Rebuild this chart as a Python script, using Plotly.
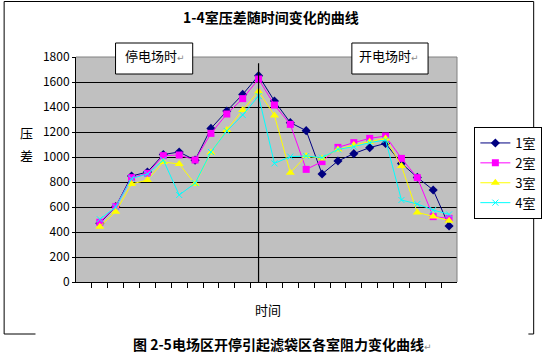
import plotly.graph_objects as go

# ---- data ----
time_index = list(range(1, 24))
room1 = [470, 603, 848, 880, 1020, 1040, 975, 1229, 1368, 1501, 1651, 1448, 1275, 1211, 864, 968, 1027, 1075, 1109, 949, 837, 736, 448]
room2 = [478, 603, 835, 869, 1011, 1016, 976, 1189, 1344, 1467, 1624, 1416, 1261, 901, 963, 1077, 1115, 1149, 1168, 989, 835, 523, 509]
room3 = [443, 563, 784, 816, 960, 944, 785, 1037, 1216, 1376, 1525, 1333, 875, 1008, 989, 1061, 1096, 1123, 1149, 928, 557, 525, 491]
room4 = [502, 600, 828, 864, 976, 696, 790, 1040, 1208, 1336, 1488, 949, 1003, 1008, 995, 1061, 1083, 1115, 1136, 656, 624, 576, 541]
series_names = ["1室", "2室", "3室", "4室"]
y_ticks = [0, 200, 400, 600, 800, 1000, 1200, 1400, 1600, 1800]
switch_index = 11

FONT = "Noto Sans CJK SC, DejaVu Sans, sans-serif"

W, H = 554, 353
L, R, T, B = 76, 471, 57, 282  # plot area pixels
pw, ph = R - L, B - T


def px(x):
    return (x - L) / pw


def py(y):
    return (B - y) / ph


styles = [
    dict(color="#000080", symbol="diamond", size=7, lw=0),
    dict(color="#FF00FF", symbol="square", size=7, lw=0),
    dict(color="#FFFF00", symbol="triangle-up", size=8, lw=0),
    dict(color="#00FFFF", symbol="x-thin", size=6, lw=1),
]

fig = go.Figure()
for name, vals, st in zip(series_names, [room1, room2, room3, room4], styles):
    fig.add_trace(go.Scatter(
        x=time_index, y=vals, name=name, mode="lines+markers",
        line=dict(color=st["color"], width=1),
        marker=dict(symbol=st["symbol"], size=st["size"], color=st["color"],
                    line=dict(color=st["color"], width=st["lw"])),
    ))

shapes = []
# vertical switch line
shapes.append(dict(type="line", xref="x", yref="y", x0=switch_index, x1=switch_index,
                   y0=0, y1=1750, line=dict(color="black", width=1.2), layer="above"))
# grey top/right border of plot area
shapes.append(dict(type="line", xref="paper", yref="paper", x0=0, x1=1, y0=1, y1=1,
                   line=dict(color="#808080", width=1), layer="above"))
shapes.append(dict(type="line", xref="paper", yref="paper", x0=1, x1=1, y0=0, y1=1,
                   line=dict(color="#808080", width=1), layer="above"))
# outer frame of the chart (with gap at bottom for caption)
fl, fr, ft, fb = 1.5, 550.5, 1.5, 334
for (x0, y0, x1, y1) in [(fl, ft, fr, ft), (fl, ft, fl, fb), (fr, ft, fr, fb),
                         (fl, fb, 34, fb), (545, fb, fr, fb)]:
    shapes.append(dict(type="line", xref="paper", yref="paper",
                       x0=px(x0), x1=px(x1), y0=py(y0), y1=py(y1),
                       line=dict(color="black", width=1)))
# annotation boxes
for (x0, x1) in [(117, 197), (362, 441)]:
    shapes.append(dict(type="rect", xref="paper", yref="paper",
                       x0=px(x0), x1=px(x1), y0=py(43), y1=py(74),
                       line=dict(color="black", width=1), fillcolor="white", layer="above"))


def ann(text, x, y, size=13):
    return dict(text=text, x=px(x), y=py(y), xref="paper", yref="paper",
                xanchor="center", yanchor="middle", showarrow=False,
                font=dict(size=size, color="black", family=FONT))


RET = "<span style='font-size:9px;color:#888'>↵</span>"
annotations = [
    ann("<b>1-4室压差随时间变化的曲线</b>", 278, 17, 14),
    ann("停电场时" + RET, 158, 56),
    ann("开电场时" + RET, 401, 56),
    ann("压", 25, 132),
    ann("差", 25, 155),
    ann("时间", 275, 309),
    ann("<b>图 2-5电场区开停引起滤袋区各室阻力变化曲线</b>" + RET, 290, 344, 14),
]

fig.update_layout(
    width=W, height=H,
    margin=dict(l=L, r=W - R, t=T, b=H - B, pad=0),
    paper_bgcolor="white", plot_bgcolor="#C0C0C0",
    font=dict(family=FONT, size=12, color="black"),
    showlegend=True,
    legend=dict(x=px(489), y=py(127), xanchor="left", yanchor="top",
                bordercolor="black", borderwidth=1, bgcolor="white",
                font=dict(size=13, family=FONT), tracegroupgap=0,
                itemwidth=30),
    xaxis=dict(range=[-0.5, 23.5], tickvals=[i + 0.5 for i in range(23)],
               showticklabels=False, ticks="outside", ticklen=5, tickcolor="black",
               showgrid=False, zeroline=False, showline=True, linecolor="black", linewidth=1),
    yaxis=dict(range=[0, 1800], tickvals=y_ticks, ticks="outside", ticklen=3, tickcolor="black",
               showgrid=True, gridcolor="black", gridwidth=1, zeroline=False,
               showline=True, linecolor="black", linewidth=1,
               tickfont=dict(size=12, family=FONT)),
    shapes=shapes, annotations=annotations,
)

fig.write_html("out.html")
